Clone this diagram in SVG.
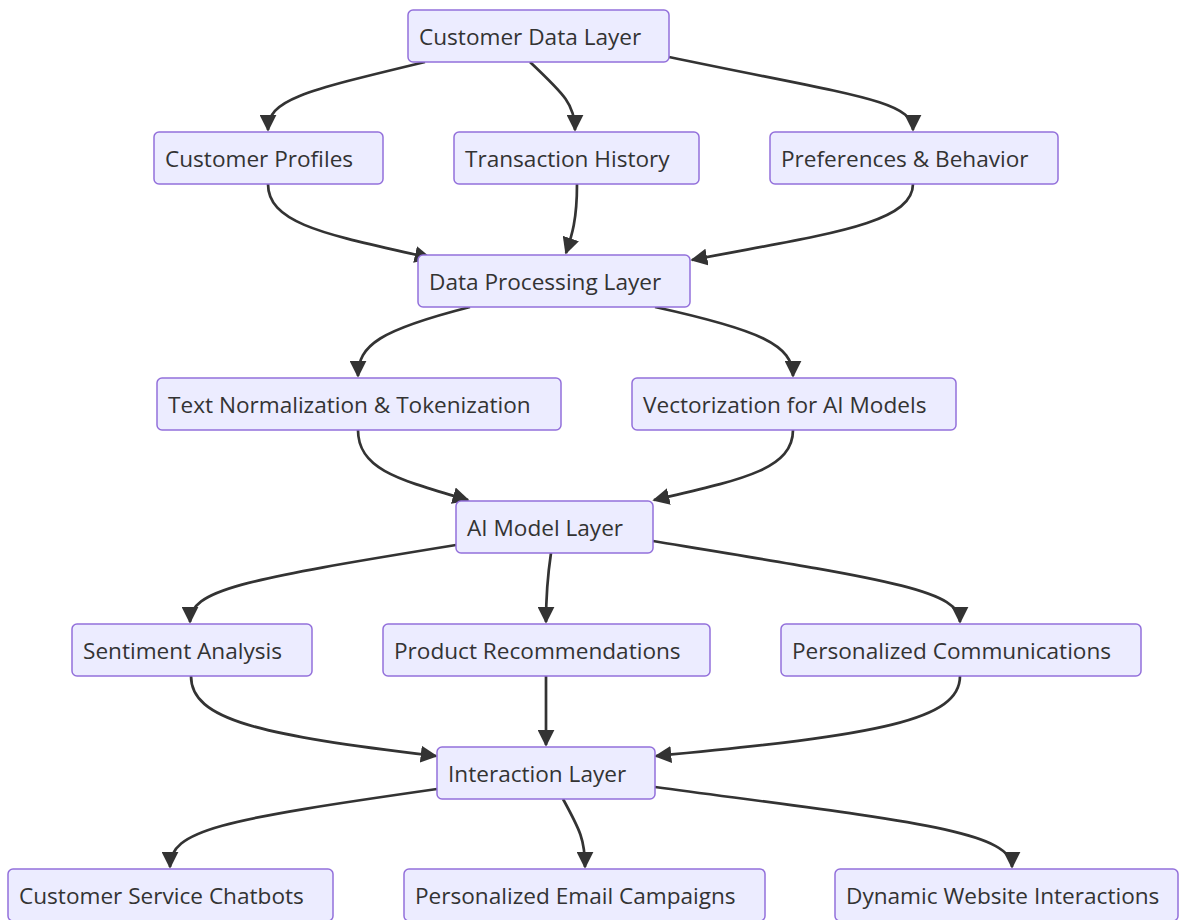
<svg xmlns="http://www.w3.org/2000/svg" width="1186" height="920" viewBox="0 0 1186 920">
<defs>
<style>
.n rect{fill:#ECECFF;stroke:#9370DB;stroke-width:1.5}
.n text{font-family:"Open Sans","Noto Sans","DejaVu Sans",sans-serif;font-size:22.6px;fill:#333;dominant-baseline:central}
.e path{fill:none;stroke:#333;stroke-width:2.7;marker-end:url(#ah)}
</style>
<marker id="ah" viewBox="0 0 10 10" refX="9" refY="5" markerWidth="17" markerHeight="17" markerUnits="userSpaceOnUse" orient="auto"><path d="M0,0 L10,5 L0,10 z" fill="#333"/></marker>
</defs>
<rect width="1186" height="920" fill="#fff"/>
<g id="edges" class="e">
<path d="M425,62 C300,92 268,100 268,130"/>
<path d="M530,62 C565,95 575,105 575,130"/>
<path d="M669,57 C850,95 913,100 913,130"/>
<path d="M268,184 C268,225 330,235 430,258"/>
<path d="M577,184 C577,220 572,235 566,253"/>
<path d="M913,184 C913,225 820,235 692,260"/>
<path d="M470,307 C380,330 358,345 358,376"/>
<path d="M655,307 C760,330 793,345 793,376"/>
<path d="M358,430 C358,470 400,480 468,500"/>
<path d="M793,430 C793,470 740,480 654,500"/>
<path d="M456,545 C240,580 190,590 190,622"/>
<path d="M551,553 C547,580 546,595 546,622"/>
<path d="M653,541 C890,580 960,590 960,622"/>
<path d="M191,676 C191,720 260,735 436,756"/>
<path d="M546,676 L546,745"/>
<path d="M960,676 C960,720 880,735 656,756"/>
<path d="M437,789 C220,820 170,830 170,867"/>
<path d="M563,799 C580,830 585,840 585,867"/>
<path d="M655,787 C900,820 1012,830 1012,867"/>
</g>
<g id="n1" class="n"><rect x="408" y="10" width="261" height="52" rx="5"/><text x="419" y="36">Customer Data Layer</text></g>
<g id="n2" class="n"><rect x="154" y="132" width="229" height="52" rx="5"/><text x="165" y="158">Customer Profiles</text></g>
<g id="n3" class="n"><rect x="454" y="132" width="245" height="52" rx="5"/><text x="465" y="158">Transaction History</text></g>
<g id="n4" class="n"><rect x="770" y="132" width="288" height="52" rx="5"/><text x="781" y="158">Preferences &amp; Behavior</text></g>
<g id="n5" class="n"><rect x="418" y="255" width="272" height="52" rx="5"/><text x="429" y="281">Data Processing Layer</text></g>
<g id="n6" class="n"><rect x="157" y="378" width="404" height="52" rx="5"/><text x="168" y="404">Text Normalization &amp; Tokenization</text></g>
<g id="n7" class="n"><rect x="632" y="378" width="324" height="52" rx="5"/><text x="643" y="404">Vectorization for AI Models</text></g>
<g id="n8" class="n"><rect x="456" y="501" width="197" height="52" rx="5"/><text x="467" y="527">AI Model Layer</text></g>
<g id="n9" class="n"><rect x="72" y="624" width="240" height="52" rx="5"/><text x="83" y="650">Sentiment Analysis</text></g>
<g id="n10" class="n"><rect x="383" y="624" width="327" height="52" rx="5"/><text x="394" y="650">Product Recommendations</text></g>
<g id="n11" class="n"><rect x="781" y="624" width="360" height="52" rx="5"/><text x="792" y="650">Personalized Communications</text></g>
<g id="n12" class="n"><rect x="437" y="747" width="218" height="52" rx="5"/><text x="448" y="773">Interaction Layer</text></g>
<g id="n13" class="n"><rect x="8" y="869" width="325" height="52" rx="5"/><text x="19" y="895">Customer Service Chatbots</text></g>
<g id="n14" class="n"><rect x="404" y="869" width="361" height="52" rx="5"/><text x="415" y="895">Personalized Email Campaigns</text></g>
<g id="n15" class="n"><rect x="835" y="869" width="343" height="52" rx="5"/><text x="846" y="895">Dynamic Website Interactions</text></g>
</svg>
